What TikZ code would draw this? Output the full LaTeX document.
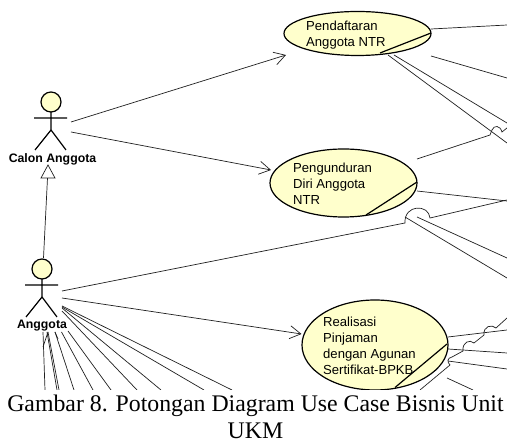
\documentclass[tikz,border=0pt]{standalone}
\usepackage{fontspec}
\setmainfont{Liberation Serif}
\setsansfont{Liberation Sans}
\usetikzlibrary{arrows.meta,shapes.geometric}
\definecolor{ucfill}{HTML}{FFFFCC}
\definecolor{linecol}{HTML}{202020}
\tikzset{
  x=1pt,y=-1pt,
  usecase/.style={draw=black,line width=1.2pt,fill=ucfill,ellipse,inner sep=0pt,outer sep=0pt},
  actorhead/.style={draw=black,line width=1.2pt,fill=ucfill,circle,minimum size=20pt,inner sep=0pt,outer sep=0pt},
  link/.style={draw=linecol,line width=.7pt},
  assoc/.style={link,-{Straight Barb[length=11pt,width=13pt,line width=.7pt]}},
  ulabel/.style={font=\sffamily\fontsize{13.1}{16}\selectfont,align=left,anchor=north west,inner sep=0pt,text=black},
  alabel/.style={font=\sffamily\bfseries\fontsize{12.3}{14}\selectfont,inner sep=0pt},
  limb/.style={draw=black,line width=1.2pt},
}
\newcommand{\stickman}[3]{% x y name
  \node[actorhead] (#3) at (#1,#2) {};
  \draw[limb] (#3.south) -- (#1,#2+28) (#1-17,#2+16) -- (#1+16,#2+16)
     (#1-16,#2+48) -- (#1,#2+28) -- (#1+15,#2+48);
}
\begin{document}
\begin{tikzpicture}
\useasboundingbox (0,0) rectangle (507,443);
\fill[white] (0,0) rectangle (507,443);
\begin{scope}
\clip (0,0) rectangle (507,389.5);
% connector ends
\foreach \n/\px/\py in {
  a1/71/122, a2/71/132, t1/286/55, t2/271/170,
  b1/62/291, b2/62/298, t3/301.5/334,
  genb/43.5/258, gent/47.5/178,
  h1/405/223, h2/430/218, r1/507/200,
  r2/507/25, s1/431/29, s2/431/56, r3/507/78,
  s3/388/55, r4/507/143, s4/394/55, r5/507/123,
  s5/417/159, h3/490/135, h4/492/130, h5/502/132, r6/507/128,
  s6/417/191, r7/507/201,
  s7/405/217, r8/507/278, s8/417/217, r9/507/258,
  s9/448/337, r10/507/330, s10/448/349, r11/507/353,
  s11/448/361, r12/507/369, s12/447/378, e12/473/390,
  r13/507/318, h6/496/328, h7/484/335, h8/474/343, h9/463/351,
  h10/452/357, h11/450/365, e13/420/390,
  f1/62/306, f2/62/307, f3/62/308, f4/62/311, f5/68/331, f6/61.5/332,
  f7/55/332, f8/48/332, f9/47/332, f10/43/332,
  e1/232/390, e2/204/390, e3/161/390, e4/137/390, e5/111/390, e6/93/390,
  e7/74/390, e8/59/390, e9/57/390, e10/45/390, e14/43/347, e15/58/339}
  {\coordinate (\n) at (\px,\py);}
% use cases
\node[usecase,minimum width=147pt,minimum height=44pt] (uc1) at (357.5,33.5) {};
\node[usecase,minimum width=147pt,minimum height=68pt] (uc2) at (343.5,183) {};
\node[usecase,minimum width=146pt,minimum height=90pt] (uc3) at (375,345) {};
\draw[limb] (380,53) -- (431,33);
\draw[limb] (366,215) -- (417,182);
\draw[limb] (395,387.5) -- (447,344);
% actors
\stickman{51}{102}{calon}
\stickman{42}{269}{anggota}
% associations
\path[assoc] (a1) -- (t1);
\path[assoc] (a2) -- (t2);
\path[assoc] (b2) -- (t3);
% generalization
\draw[link] (genb) -- (gent);
\draw[link,fill=white] (48,165) -- (41,178) -- (55,178) -- cycle;
% lines with hops
\draw[link] (b1) -- (h1) .. controls (404,204) and (429,204) .. (h2) -- (r1);
\draw[link] (s5) -- (h3) -- (h4) .. controls (494,125) and (500,125) .. (h5) -- (r6);
\draw[link] (r13) -- (h6) .. controls (492,324) and (483,326) .. (h7) -- (h8)
   .. controls (470,339) and (462,342) .. (h9) -- (h10) .. controls (447,358) and (447,362) .. (h11) -- (e13);
% straight lines
\draw[link] (s1) -- (r2);
\draw[link] (s2) -- (r3);
\draw[link] (s3) -- (r4);
\draw[link] (s4) -- (r5);
\draw[link] (s6) -- (r7);
\draw[link] (s7) -- (r8);
\draw[link] (s8) -- (r9);
\draw[link] (s9) -- (r10);
\draw[link] (s10) -- (r11);
\draw[link] (s11) -- (r12);
\draw[link] (s12) -- (e12);
% fan
\draw[link] (f1) -- (e1);
\draw[link] (f2) -- (e2);
\draw[link] (f3) -- (e3);
\draw[link] (f4) -- (e4);
\draw[link] (f5) -- (e5);
\draw[link] (f6) -- (e6);
\draw[link] (f7) -- (e7);
\draw[link] (f8) -- (e8);
\draw[link] (f9) -- (e9);
\draw[link] (f10) -- (e10);
\draw[link] (f8) -- (e14);
\draw[link] (f7) -- (e15);
\end{scope}
% texts
\node[ulabel] (uc1t) at (306,20.5) {Pendaftaran\\Anggota NTR};
\node[ulabel] (uc2t) at (293,162.5) {Pengunduran\\Diri Anggota\\NTR};
\node[ulabel] (uc3t) at (323,316.5) {Realisasi\\Pinjaman\\dengan Agunan\\Sertifikat-BPKB};
\node[alabel] (calonlbl) at (52.5,159) {Calon Anggota};
\node[alabel] (anggotalbl) at (42,326) {Anggota};
\node[font=\fontsize{23.8}{27}\selectfont,align=center,inner sep=0pt,anchor=north] (cap) at (255.5,394.5) {Gambar 8. Potongan Diagram Use Case Bisnis Unit\\UKM};
\end{tikzpicture}
\end{document}
